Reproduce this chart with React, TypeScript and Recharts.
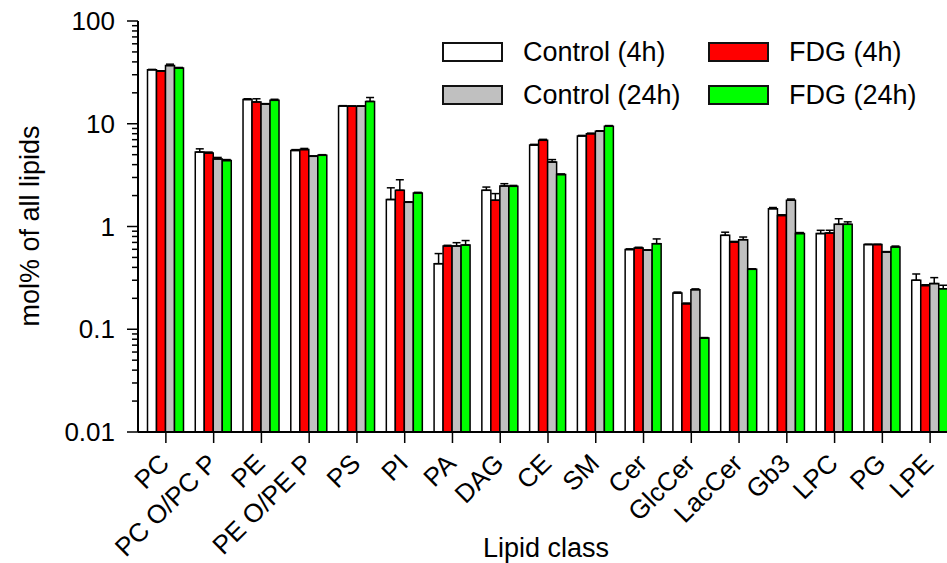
import React from "react";
import { BarChart, Bar, XAxis, YAxis, ErrorBar, Legend } from "recharts";

const categories = [
  "PC", "PC O/PC P", "PE", "PE O/PE P", "PS", "PI", "PA", "DAG", "CE",
  "SM", "Cer", "GlcCer", "LacCer", "Gb3", "LPC", "PG", "LPE",
];

// mol% values
const control4h = [33.5, 5.3, 17.2, 5.5, 14.9, 1.83, 0.435, 2.25, 6.2, 7.6, 0.596, 0.225, 0.82, 1.49, 0.853, 0.667, 0.3];
const control4hErr = [0.3, 0.4, 0.3, 0.1, 0.1, 0.55, 0.11, 0.17, 0.1, 0.1, 0.01, 0.005, 0.06, 0.04, 0.065, 0.005, 0.045];
const fdg4h = [32.5, 5.2, 16.3, 5.6, 14.8, 2.25, 0.646, 1.8, 6.9, 8.0, 0.618, 0.177, 0.706, 1.28, 0.864, 0.667, 0.266];
const fdg4hErr = [0.3, 0.1, 1.2, 0.15, 0.1, 0.6, 0.01, 0.29, 0.15, 0.1, 0.01, 0.003, 0.01, 0.02, 0.055, 0.005, 0.005];
const control24h = [36.8, 4.55, 15.6, 4.82, 14.8, 1.72, 0.646, 2.48, 4.24, 8.45, 0.587, 0.243, 0.745, 1.8, 1.05, 0.565, 0.278];
const control24hErr = [1.2, 0.15, 0.1, 0.05, 0.1, 0.02, 0.05, 0.13, 0.24, 0.1, 0.005, 0.004, 0.045, 0.05, 0.14, 0.005, 0.04];
const fdg24h = [34.8, 4.38, 16.9, 4.93, 16.5, 2.12, 0.66, 2.46, 3.2, 9.45, 0.681, 0.082, 0.383, 0.853, 1.05, 0.632, 0.248];
const fdg24hErr = [0.5, 0.1, 0.4, 0.07, 1.5, 0.03, 0.07, 0.05, 0.05, 0.15, 0.076, 0.001, 0.005, 0.02, 0.06, 0.013, 0.02];

const majorTicks = [0.01, 0.1, 1, 10, 100];
const minorSteps = [2, 3, 4, 5, 6, 7, 8, 9];
const yTicks = [
  ...majorTicks,
  ...majorTicks.slice(0, 4).flatMap((d) => minorSteps.map((m) => +(d * m).toPrecision(3))),
];

const series = [
  { key: "c4", name: "Control (4h)", color: "#ffffff" },
  { key: "f4", name: "FDG (4h)", color: "#ff0000" },
  { key: "c24", name: "Control (24h)", color: "#c0c0c0" },
  { key: "f24", name: "FDG (24h)", color: "#00ff00" },
];

const data = categories.map((name, i) => ({
  name,
  c4: control4h[i],
  c4e: [0, control4hErr[i]],
  f4: fdg4h[i],
  f4e: [0, fdg4hErr[i]],
  c24: control24h[i],
  c24e: [0, control24hErr[i]],
  f24: fdg24h[i],
  f24e: [0, fdg24hErr[i]],
}));

const FONT = "'Liberation Sans', Arial, sans-serif";

function YTick({ x, y, payload }: any) {
  const v = payload.value;
  const major = majorTicks.some((m) => Math.abs(m - v) < 1e-9);
  return (
    <g>
      <line x1={x - (major ? 11 : 6)} x2={x} y1={y} y2={y} stroke="#000" strokeWidth={1.5} />
      {major && (
        <text x={x - 23} y={y + 9} textAnchor="end" fontSize={26} fontFamily={FONT} fill="#000">
          {String(v)}
        </text>
      )}
    </g>
  );
}

function XTick({ x, y, payload }: any) {
  return (
    <g>
      <line x1={x} x2={x} y1={y} y2={y + 11} stroke="#000" strokeWidth={1.5} />
      <text
        transform={`translate(${x + 5},${y + 33}) rotate(-45)`}
        textAnchor="end"
        fontSize={26}
        fontFamily={FONT}
        fill="#000"
      >
        {payload.value}
      </text>
    </g>
  );
}

function LegendBox() {
  const pos = [
    { left: 442, top: 42 },
    { left: 708, top: 42 },
    { left: 442, top: 85 },
    { left: 708, top: 85 },
  ];
  return (
    <div style={{ position: "relative", width: 947, height: 120, fontFamily: FONT }}>
      {series.map((s, i) => (
        <div key={s.key}>
          <div
            style={{
              position: "absolute",
              left: pos[i].left,
              top: pos[i].top,
              width: 61,
              height: 20,
              boxSizing: "border-box",
              border: "2px solid #111",
              background: s.color,
            }}
          />
          <div
            style={{
              position: "absolute",
              left: pos[i].left + 81,
              top: pos[i].top - 5,
              fontSize: 27,
              lineHeight: "30px",
              color: "#000",
              whiteSpace: "nowrap",
            }}
          >
            {s.name}
          </div>
        </div>
      ))}
    </div>
  );
}

export default function App() {
  return (
    <div
      style={{
        position: "absolute",
        left: 0,
        top: 0,
        width: 947,
        height: 563,
        overflow: "hidden",
        background: "#fff",
      }}
    >
      <BarChart
        width={960}
        height={563}
        data={data}
        margin={{ top: 21, right: 6, bottom: 0, left: 0 }}
        barGap={0}
        barCategoryGap={5.5}
      >
        <XAxis
          dataKey="name"
          height={131}
          interval={0}
          padding={{ left: 4, right: 0 }}
          tickSize={0}
          tickMargin={0}
          tick={<XTick />}
          axisLine={{ stroke: "#000", strokeWidth: 2 }}
          label={{
            value: "Lipid class",
            position: "insideBottom",
            offset: 6,
            fontSize: 27,
            fontFamily: FONT,
            fill: "#000",
          }}
        />
        <XAxis
          xAxisId="top"
          dataKey="name"
          orientation="top"
          height={0}
          tick={false}
          tickLine={false}
          axisLine={{ stroke: "#000", strokeWidth: 2 }}
        />
        <YAxis
          width={138}
          scale="log"
          domain={[0.01, 100]}
          allowDataOverflow
          ticks={yTicks}
          interval={0}
          tickSize={0}
          tickMargin={0}
          tick={<YTick />}
          axisLine={{ stroke: "#000", strokeWidth: 2 }}
          label={{
            content: () => (
              <text
                x={30}
                y={226}
                transform="rotate(-90 30 226)"
                textAnchor="middle"
                dominantBaseline="central"
                fontSize={27}
                fontFamily={FONT}
                fill="#000"
              >
                mol% of all lipids
              </text>
            ),
          }}
        />
        <Legend
          layout="vertical"
          verticalAlign="middle"
          align="center"
          content={<LegendBox />}
          wrapperStyle={{ position: "absolute", left: 0, top: 0, width: 947, height: 120 }}
        />
        {series.map((s) => (
          <Bar
            key={s.key}
            dataKey={s.key}
            name={s.name}
            fill={s.color}
            stroke="#000"
            strokeWidth={1.5}
            isAnimationActive={false}
          >
            <ErrorBar
              dataKey={`${s.key}e`}
              width={4}
              stroke="#000"
              strokeWidth={1.5}
              direction="y"
              isAnimationActive={false}
            />
          </Bar>
        ))}
      </BarChart>
    </div>
  );
}
